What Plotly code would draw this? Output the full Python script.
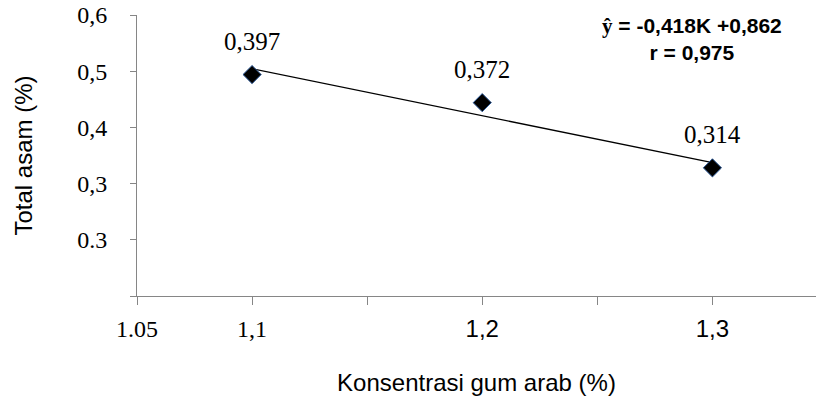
import plotly.graph_objects as go

# Gum arabic concentration (%) and measured total acid (%)
konsentrasi = [1.1, 1.2, 1.3]
total_asam = [0.397, 0.372, 0.314]

# Linear regression reported for the series
slope = -0.418
intercept = 0.862
r_value = 0.975

# Axis ticks and their printed labels
x_tickvals = [1.05, 1.1, 1.15, 1.2, 1.25, 1.3]
x_ticktext = ["1.05", "1,1", "", "1,2", "", "1,3"]
y_tickvals = [0.2, 0.25, 0.3, 0.35, 0.4, 0.45]
y_ticktext = ["", "0.3", "0,3", "0,4", "0,5", "0,6"]

SERIF = "Liberation Serif, Times New Roman, serif"
SANS = "Liberation Sans, Arial, sans-serif"
AXIS_GREY = "#868686"


def comma(v, nd=3):
    return f"{v:.{nd}f}".replace(".", ",")


# Sans-serif tick labels for the upper categories
x_ticktext = [
    f'<span style="font-family:{SANS}">{t}</span>' if t in ("1,2", "1,3") else t
    for t in x_ticktext
]

fit_x = [konsentrasi[0], konsentrasi[-1]]
fit_y = [slope * k + intercept for k in fit_x]

fig = go.Figure()

fig.add_trace(go.Scatter(
    x=fit_x, y=fit_y, mode="lines",
    line=dict(color="black", width=1.3),
    showlegend=False, hoverinfo="skip",
))

fig.add_trace(go.Scatter(
    x=konsentrasi, y=total_asam, mode="markers",
    marker=dict(symbol="diamond", size=14, color="black",
                line=dict(color="#2E5B9A", width=1)),
    showlegend=False,
))

for k, v in zip(konsentrasi, total_asam):
    fig.add_annotation(
        x=k, y=v, text=comma(v), showarrow=False, yshift=33,
        font=dict(family=SERIF, size=25, color="black"),
    )

equation = (
    f'<span style="font-family:{SERIF}">ŷ</span> = {comma(slope)}K +{comma(intercept)}'
    f"<br>r = {comma(r_value)}"
)
fig.add_annotation(
    xref="paper", yref="paper", x=0.817, y=1.0,
    xanchor="center", yanchor="top",
    text=f"<b>{equation}</b>",
    showarrow=False, align="center",
    font=dict(family=SANS, size=21, color="black"),
    yshift=3,
)

fig.update_layout(
    width=816, height=401,
    margin=dict(l=137, r=0, t=15, b=105),
    paper_bgcolor="white", plot_bgcolor="white",
    xaxis=dict(
        range=[1.05, 1.345],
        tickvals=x_tickvals, ticktext=x_ticktext,
        showline=True, linecolor=AXIS_GREY, linewidth=1,
        ticks="outside", ticklen=8, tickcolor=AXIS_GREY,
        showgrid=False, zeroline=False,
        tickfont=dict(family=SERIF, size=24, color="black"),
        ticklabelstandoff=3,
        title=dict(text="Konsentrasi gum arab (%)", standoff=33,
                   font=dict(family=SANS, size=24, color="black")),
    ),
    yaxis=dict(
        range=[0.2, 0.45],
        tickvals=y_tickvals, ticktext=y_ticktext,
        showline=True, linecolor=AXIS_GREY, linewidth=1,
        ticks="outside", ticklen=6, tickcolor=AXIS_GREY,
        showgrid=False, zeroline=False,
        tickfont=dict(family=SERIF, size=24, color="black"),
        ticklabelstandoff=18,
        title=dict(text="Total asam (%)", standoff=37,
                   font=dict(family=SANS, size=24, color="black")),
    ),
)

fig.write_html("out.html")
